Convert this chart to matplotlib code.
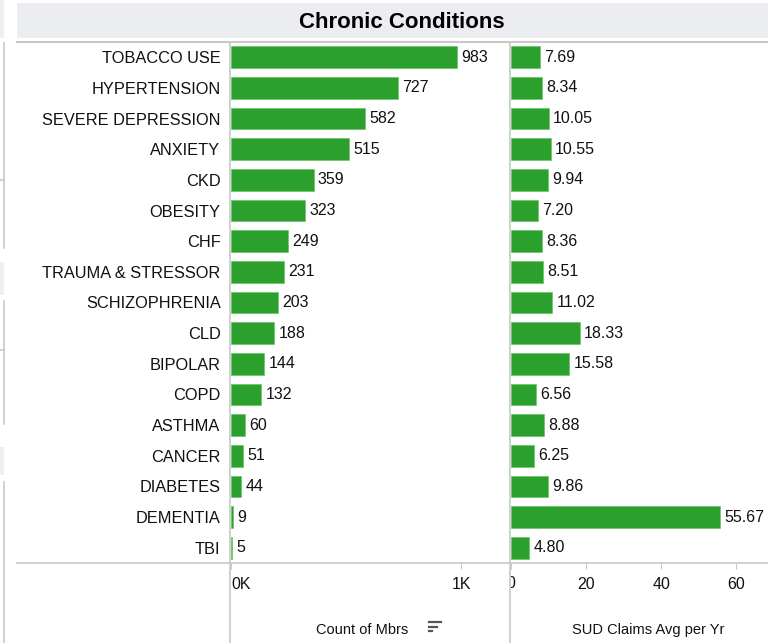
import matplotlib.pyplot as plt
from matplotlib.lines import Line2D
from matplotlib.patches import Rectangle
from matplotlib.transforms import Bbox, TransformedBbox
import numpy as np

plt.rcParams['font.family'] = ['Liberation Sans', 'DejaVu Sans']

conditions = ["TOBACCO USE", "HYPERTENSION", "SEVERE DEPRESSION", "ANXIETY", "CKD",
              "OBESITY", "CHF", "TRAUMA & STRESSOR", "SCHIZOPHRENIA", "CLD",
              "BIPOLAR", "COPD", "ASTHMA", "CANCER", "DIABETES", "DEMENTIA", "TBI"]
count_mbrs = [983, 727, 582, 515, 359, 323, 249, 231, 203, 188, 144, 132, 60, 51, 44, 9, 5]
sud_claims = [7.69, 8.34, 10.05, 10.55, 9.94, 7.20, 8.36, 8.51, 11.02, 18.33,
              15.58, 6.56, 8.88, 6.25, 9.86, 55.67, 4.80]

W, H = 768, 643
GREEN = "#2ca02c"
LINE = "#c8c8c8"
TXT = "#111111"


def fx(px):
    return px / W


def fy(py):
    return 1 - py / H


fig = plt.figure(figsize=(W / 100, H / 100), dpi=100)

# -------------------------
# frame / dashboard decorations
# -------------------------
fig.add_artist(Rectangle((fx(17), fy(38)), fx(768) - fx(17), fy(3) - fy(38),
                         transform=fig.transFigure, color="#ebedf0", lw=0))
fig.text(fx(402), fy(22.5), "Chronic Conditions", ha="center", va="center",
         fontsize=16, fontweight="bold", color="black")

def hline(y, x0, x1, **kw):
    fig.add_artist(Line2D([fx(x0), fx(x1)], [fy(y), fy(y)], transform=fig.transFigure,
                          color=kw.get("color", LINE), lw=kw.get("lw", 1.2)))

def vline(x, y0, y1, **kw):
    fig.add_artist(Line2D([fx(x), fx(x)], [fy(y0), fy(y1)], transform=fig.transFigure,
                          color=kw.get("color", LINE), lw=kw.get("lw", 1.2)))

hline(42, 17, 768, lw=1.5)
hline(563, 17, 768)
vline(230, 42, 643)
vline(510, 42, 643)

# clipped neighbouring panel at the left edge
for y0, y1 in [(0, 38), (262, 295), (447, 475)]:
    fig.add_artist(Rectangle((0, fy(y1)), fx(4), fy(y0) - fy(y1),
                             transform=fig.transFigure, color="#eeeff2", lw=0))
vline(4, 43, 248)
hline(180, 0, 4)
vline(4, 301, 424)
hline(350, 0, 4)
vline(4, 482, 643)

# -------------------------
# bar panels
# -------------------------
y = np.arange(len(conditions))
bottom, top = fy(563), fy(42)
ax1 = fig.add_axes([fx(231), bottom, fx(510) - fx(231), top - bottom])
ax2 = fig.add_axes([fx(511), bottom, fx(768) - fx(511), top - bottom])

for ax, vals, xmax in [(ax1, count_mbrs, 1213), (ax2, sud_claims, 68.5)]:
    ax.barh(y, vals, height=0.71, color=GREEN, edgecolor="#5cbf5c", linewidth=0.4)
    ax.set_ylim(len(conditions) - 0.5, -0.5)
    ax.set_xlim(0, xmax)
    for s in ax.spines.values():
        s.set_visible(False)
    ax.patch.set_alpha(0)
    ax.tick_params(axis="x", length=4, color=LINE, pad=6, labelsize=11.5, labelcolor=TXT)

for i, v in enumerate(count_mbrs):
    ax1.annotate(str(v), (v, i), xytext=(3, 0), textcoords="offset points",
                 va="center", ha="left", fontsize=11.5, color=TXT)
for i, v in enumerate(sud_claims):
    ax2.annotate(f"{v:.2f}", (v, i), xytext=(3, 0), textcoords="offset points",
                 va="center", ha="left", fontsize=11.5, color=TXT, annotation_clip=False)

ax1.set_yticks(y)
ax1.set_yticklabels(conditions, fontsize=11.8, color=TXT)
ax1.tick_params(axis="y", length=0, pad=7.5)
ax2.set_yticks([])

ax1.set_xticks([0, 1000])
ax1.set_xticklabels(["0K", "1K"])
ax1.get_xticklabels()[0].set_ha("left")

ax2.set_xticks([0, 20, 40, 60])
ax2.set_xticklabels(["", "20", "40", "60"])
zero = fig.text(fx(511), fy(583), "0", ha="center", va="center", fontsize=11.5, color=TXT)
zero.set_clip_on(True)
zero.set_clip_box(TransformedBbox(Bbox([[fx(511), 0], [1, 1]]), fig.transFigure))

# axis titles
fig.text(fx(362), fy(630), "Count of Mbrs", ha="center", va="center", fontsize=10.5, color=TXT)
for k, ln in enumerate([12, 8, 3]):
    hline(622 + 4.5 * k, 429, 429 + ln, color="#555555", lw=1.6)
fig.text(fx(648), fy(630), "SUD Claims Avg per Yr", ha="center", va="center",
         fontsize=10.5, color=TXT)

fig.savefig("out.png", dpi=100)
